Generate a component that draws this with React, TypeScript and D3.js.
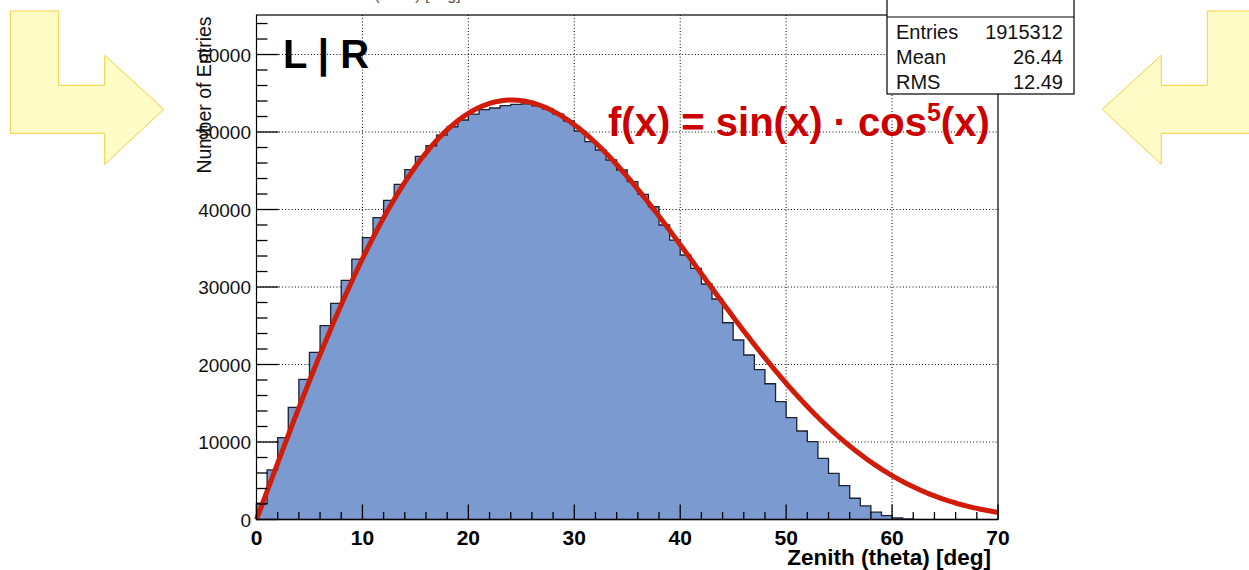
import React from "react";
import * as d3 from "d3";

// ---- data ----
const binEdgesStart = 0; // deg
const binWidth = 1; // deg
const binCounts = [
  2100, 6400, 10560, 14470, 18080, 21570, 25010, 27890, 30860, 33610,
  36370, 38950, 41190, 43250, 45140, 46860, 48230, 49610, 50680, 51550,
  52320, 52880, 53100, 53400, 53580, 53640, 53390, 52970, 52320, 51420,
  50130, 48750, 47680, 46390, 45100, 43590, 41960, 40360, 38000, 36060,
  34130, 32410, 30390, 28450, 25390, 23160, 21230, 19330, 17520, 15200,
  13140, 11420, 10040, 7900, 5960, 4360, 2740, 1750, 950, 500,
  200, 70, 20, 0, 0, 0, 0, 0, 0, 0,
];
const fitAmplitude = 209150; // f(x) = A sin(x) cos^5(x)
const xTicks = [0, 10, 20, 30, 40, 50, 60, 70];
const yTicks = [0, 10000, 20000, 30000, 40000, 50000, 60000];
const statsLabels = ["Entries", "Mean", "RMS"];
const statsValues = ["1915312", "26.44", "12.49"];

const W = 1249;
const H = 570;
const font = "'Liberation Sans', Arial, Helvetica, sans-serif";

export default function App() {
  const x = d3.scaleLinear().domain([0, 70]).range([256.5, 998]);
  const y = d3.scaleLinear().domain([0, 65100]).range([519.5, 15]);
  const [x0, x1] = x.range();
  const [yb, yt] = y.range();

  // histogram step path
  const pts: [number, number][] = [[0, 0]];
  binCounts.forEach((c, i) => {
    const a = binEdgesStart + i * binWidth;
    pts.push([a, c]);
    pts.push([a + binWidth, c]);
  });
  pts.push([70, 0]);
  const line = d3
    .line<[number, number]>()
    .x((d) => x(d[0]))
    .y((d) => y(d[1]));
  const histPath = line(pts) + "Z";

  const rad = Math.PI / 180;
  const fx = (deg: number) =>
    fitAmplitude * Math.sin(deg * rad) * Math.pow(Math.cos(deg * rad), 5);
  const curvePts: [number, number][] = d3
    .range(0, 70.001, 0.25)
    .map((d) => [d, fx(d)] as [number, number]);
  const curvePath = line(curvePts);

  const xMinor = d3.range(0, 70.001, 2);
  const yMinor = d3.range(0, 65000, 2000);

  const leftArrow: [number, number][] = [
    [10.3, 11],
    [58.7, 11],
    [58.7, 85.3],
    [104.7, 85.3],
    [104.7, 55.3],
    [163.7, 109.3],
    [104.7, 164.3],
    [104.7, 133.3],
    [10.3, 133.3],
  ];
  const rightArrow = leftArrow.map(([px, py]) => [1266 - px, py]);
  const poly = (p: number[][]) => p.map((q) => q.join(",")).join(" ");

  return (
    <div style={{ position: "absolute", left: 0, top: 0 }}>
      <svg width={W} height={H} style={{ display: "block", background: "#fff" }} fontFamily={font}>
        {/* arrows */}
        <polygon points={poly(leftArrow)} fill="#fffcc8" stroke="#f6d03a" strokeWidth={1} />
        <polygon points={poly(rightArrow)} fill="#fffcc8" stroke="#f6d03a" strokeWidth={1} />

        {/* cropped title */}
        <text x={393} y={0} textAnchor="middle" fontSize={16} fill="#555">
          Zenith (theta) [deg]
        </text>

        {/* grid */}
        <g stroke="#000" strokeWidth={1} strokeDasharray="1 2.2">
          {xTicks.slice(1, -1).map((t) => (
            <line key={"gx" + t} x1={x(t)} x2={x(t)} y1={yt} y2={yb} />
          ))}
          {yTicks.slice(1).map((t) => (
            <line key={"gy" + t} x1={x0} x2={x1} y1={y(t)} y2={y(t)} />
          ))}
        </g>

        {/* histogram */}
        <path d={histPath} fill="#7b9ad0" stroke="#1c2230" strokeWidth={1.3} />

        {/* fit curve */}
        <path d={curvePath || ""} fill="none" stroke="#d11c0a" strokeWidth={5} strokeLinejoin="round" />

        {/* frame */}
        <rect x={x0} y={yt} width={x1 - x0} height={yb - yt} fill="none" stroke="#000" strokeWidth={1.2} />

        {/* ticks */}
        <g stroke="#000" strokeWidth={1.3}>
          {xMinor.map((t) => {
            const major = Math.abs(t % 10) < 1e-6;
            return <line key={"xt" + t} x1={x(t)} x2={x(t)} y1={yb} y2={yb - (major ? 15 : 7.5)} />;
          })}
          {yMinor.map((t) => {
            const major = t % 10000 === 0;
            return <line key={"yt" + t} x1={x0} x2={x0 + (major ? 22 : 11)} y1={y(t)} y2={y(t)} />;
          })}
        </g>

        {/* x tick labels */}
        {xTicks.map((t) => (
          <text key={"xl" + t} x={x(t)} y={545} textAnchor="middle" fontSize={21} fontWeight="bold">
            {t}
          </text>
        ))}
        <text x={991} y={564.5} textAnchor="end" fontSize={22.5} fontWeight="bold">
          Zenith (theta) [deg]
        </text>

        {/* y tick labels */}
        {yTicks.map((t) => (
          <text key={"yl" + t} x={251} y={y(t) + 7} textAnchor="end" fontSize={19} fill="#111">
            {t}
          </text>
        ))}
        <text transform="translate(211,95) rotate(-90)" textAnchor="middle" fontSize={19.5} fill="#111">
          Number of Entries
        </text>

        {/* L | R */}
        <text x={283} y={68} fontSize={40} fontWeight="bold">
          L | R
        </text>

        {/* formula */}
        <text x={608} y={136} fontSize={40} fontWeight="bold" fill="#cc0000">
          f(x) = sin(x) · cos
          <tspan dy={-15} fontSize={25}>5</tspan>
          <tspan dy={15}>(x)</tspan>
        </text>

        {/* stats box */}
        <rect x={887} y={-20} width={187} height={114} fill="#fff" stroke="#000" strokeWidth={1.2} />
        <line x1={887} x2={1074} y1={17} y2={17} stroke="#000" strokeWidth={1.2} />
        {statsLabels.map((l, i) => (
          <g key={l}>
            <text x={896} y={38.5 + i * 25.4} fontSize={20} fill="#111">
              {l}
            </text>
            <text x={1063} y={38.5 + i * 25.4} fontSize={20} textAnchor="end" fill="#111">
              {statsValues[i]}
            </text>
          </g>
        ))}
      </svg>
    </div>
  );
}
